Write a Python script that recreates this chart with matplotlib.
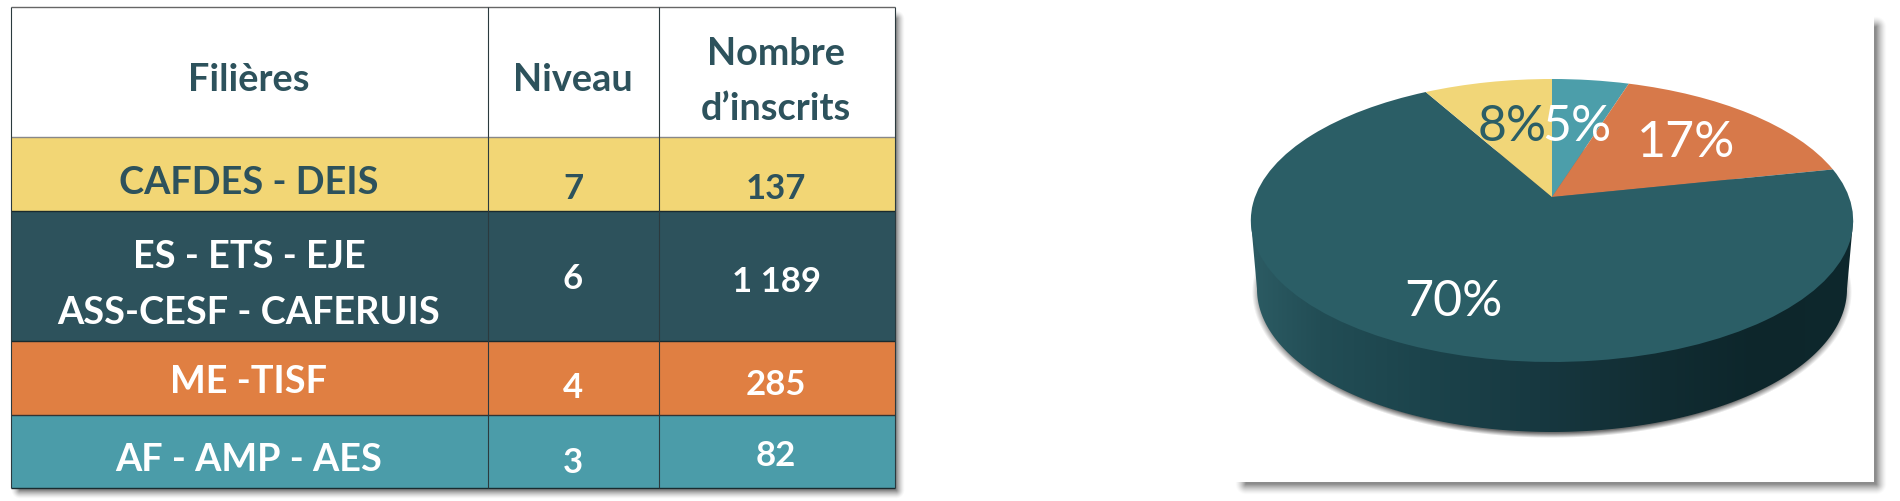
import numpy as np
import matplotlib
matplotlib.use("Agg")
import matplotlib.pyplot as plt
from matplotlib.patches import Rectangle, Polygon
from matplotlib.transforms import Transform

# ---------- data ----------
filieres = ["CAFDES - DEIS", "ES - ETS - EJE\nASS-CESF - CAFERUIS", "ME -TISF", "AF - AMP - AES"]
niveaux = ["7", "6", "4", "3"]
inscrits_labels = ["137", "1 189", "285", "82"]
headers = ["Filières", "Niveau", "Nombre\nd’inscrits"]
pie_values = [82, 285, 1189, 137]

# ---------- style ----------
W, H = 1900, 502
DARK = "#2d525c"
row_colors = ["#f2d675", "#2d525c", "#e07f42", "#4b9ca9"]
row_text = [DARK, "white", "white", "white"]
pie_colors = ["#4c9eaa", "#d7794a", "#2b5e66", "#f1d678"]
pie_text = ["white", "white", "white", "#2b5e66"]
FONT = "Lato"

fig = plt.figure(figsize=(W / 100, H / 100), dpi=100, facecolor="white")
ax = fig.add_axes([0, 0, 1, 1])


class Perspective(Transform):
    """Maps the unit circle of the pie to the tilted disc in pixel coordinates."""
    input_dims = output_dims = 2
    is_separable = False
    has_inverse = False

    def __init__(self, cx, cy, rx, ry, a):
        super().__init__()
        self.p = (cx, cy, rx, ry, a)

    def transform_non_affine(self, values):
        cx, cy, rx, ry, a = self.p
        v = np.asarray(values, dtype=float)
        w = 1 + a * v[:, 1]
        return np.column_stack([cx + rx * v[:, 0] / w, cy - ry * v[:, 1] / w])


# pie top (real pie wedges, clockwise from 12 o'clock)
wedges, _ = ax.pie(pie_values, colors=pie_colors, startangle=90, counterclock=False,
                   wedgeprops=dict(linewidth=0))
persp = Perspective(1552, 198, 297, 137.6, 0.166)
for w_ in wedges:
    w_.set_transform(persp + ax.transData)
    w_.set_zorder(6)
    w_.set_clip_on(False)

ax.set_aspect("auto")
ax.axis("off")

yy, xx = np.mgrid[0:H, 0:W] + 0.5


def rect_shadow(x0, y0, x1, y1, blur, alpha, z):
    dx = np.maximum(np.maximum(x0 - xx, xx - x1), 0)
    dy = np.maximum(np.maximum(y0 - yy, yy - y1), 0)
    d = np.hypot(dx, dy)
    a = alpha * np.clip(1 - d / blur, 0, 1) ** 1.5
    img = np.zeros((H, W, 4))
    img[..., :3] = 0.25
    img[..., 3] = a
    ax.imshow(img, extent=(0, W, H, 0), zorder=z, aspect="auto", interpolation="nearest")


# panel behind the pie
rect_shadow(1246, 28, 1876, 485, 11, 0.6, 1)
ax.add_patch(Rectangle((1231, 13), 643, 470, fc="white", ec="none", zorder=2))

# pie shadow
r = np.hypot((xx - 1552) / 300.0, (yy - 293) / 146.0)
img = np.zeros((H, W, 4))
img[..., :3] = 0.3
img[..., 3] = 0.8 * np.clip((1.0 - r) / 0.035, 0, 1)
ax.imshow(img, extent=(0, W, H, 0), zorder=3, aspect="auto", interpolation="bilinear")

# pie side wall with horizontal gradient
t = np.linspace(0, np.pi, 200)
bx = 1552 + 295 * np.cos(t)
by = 290 + 143 * np.sin(t)
side_pts = np.vstack([[[1853, 223]], np.column_stack([bx, by]), [[1251, 223]]])
clip = Polygon(side_pts, closed=True, transform=ax.transData, fc="none", ec="none")
ax.add_patch(clip)
gx = np.arange(1240, 1860)
stops_x = [1258, 1320, 1420, 1540, 1660, 1760, 1850]
stops = np.array([[0x2b, 0x5a, 0x62], [0x22, 0x4d, 0x55], [0x1c, 0x44, 0x4c],
                  [0x17, 0x38, 0x40], [0x11, 0x2c, 0x32], [0x0d, 0x26, 0x2b], [0x0e, 0x28, 0x2d]]) / 255
grad = np.stack([np.interp(gx, stops_x, stops[:, i]) for i in range(3)], axis=-1)[None, :, :]
im = ax.imshow(grad, extent=(1240, 1860, 440, 200), zorder=5, aspect="auto", interpolation="bilinear")
im.set_clip_path(clip)

# table shadow
rect_shadow(20, 20, 896, 491, 9, 0.65, 1)

# table geometry (pixel positions)
col_x = [11, 488, 659, 895]
row_y = [8, 138, 212, 342, 416, 489]

ax.add_patch(Rectangle((col_x[0], row_y[0]), col_x[3] - col_x[0], row_y[1] - row_y[0], fc="white", ec="none", zorder=2))
for i, c in enumerate(row_colors):
    ax.add_patch(Rectangle((col_x[0], row_y[i + 1]), col_x[3] - col_x[0], row_y[i + 2] - row_y[i + 1],
                           fc=c, ec="none", zorder=2))
# grid lines
for y, col in zip(row_y, ["#666666", "#888888", "#1a2a2e", "#1a2a2e", "#333333", "#1a2a2e"]):
    ax.plot([col_x[0], col_x[3]], [y, y], color=col, lw=1.0, zorder=3, solid_capstyle="butt")
for x in col_x:
    ax.plot([x, x], [row_y[0], row_y[-1]], color="#2b3a3e", lw=0.8, zorder=3, solid_capstyle="butt")

TXT = dict(ha="center", va="center", family=FONT, fontweight="bold", zorder=8)
FS = 27.3
FN = 25
col_c = [249, 573, 776]
ax.text(col_c[0], 80, headers[0], color=DARK, fontsize=FS, **TXT)
ax.text(col_c[1], 80, headers[1], color=DARK, fontsize=FS, **TXT)
nom, ins = headers[2].split("\n")
ax.text(col_c[2], 54, nom, color=DARK, fontsize=FS, **TXT)
ax.text(col_c[2], 109, ins, color=DARK, fontsize=FS, **TXT)

fil_y = [[183], [257, 313], [382], [460]]
niv_y = [189, 279, 388, 463]
ins_y = [189, 282, 385, 456]
for i in range(4):
    for line, y in zip(filieres[i].split("\n"), fil_y[i]):
        ax.text(col_c[0], y, line, color=row_text[i], fontsize=FS, **TXT)
    ax.text(col_c[1], niv_y[i], niveaux[i], color=row_text[i], fontsize=FN, **TXT)
    ax.text(col_c[2], ins_y[i], inscrits_labels[i], color=row_text[i], fontsize=FN, **TXT)

# pie labels
total = sum(pie_values)
lab_xy = [(1577, 127), (1686, 143), (1453, 302), (1512, 127)]
for v, c, (x, y) in zip(pie_values, pie_text, lab_xy):
    ax.text(x, y, f"{round(100 * v / total)}%", color=c, fontsize=36, ha="center", va="center",
            family=FONT, zorder=9)

ax.set_xlim(0, W)
ax.set_ylim(H, 0)
fig.savefig("out.png", dpi=100, facecolor="white")
